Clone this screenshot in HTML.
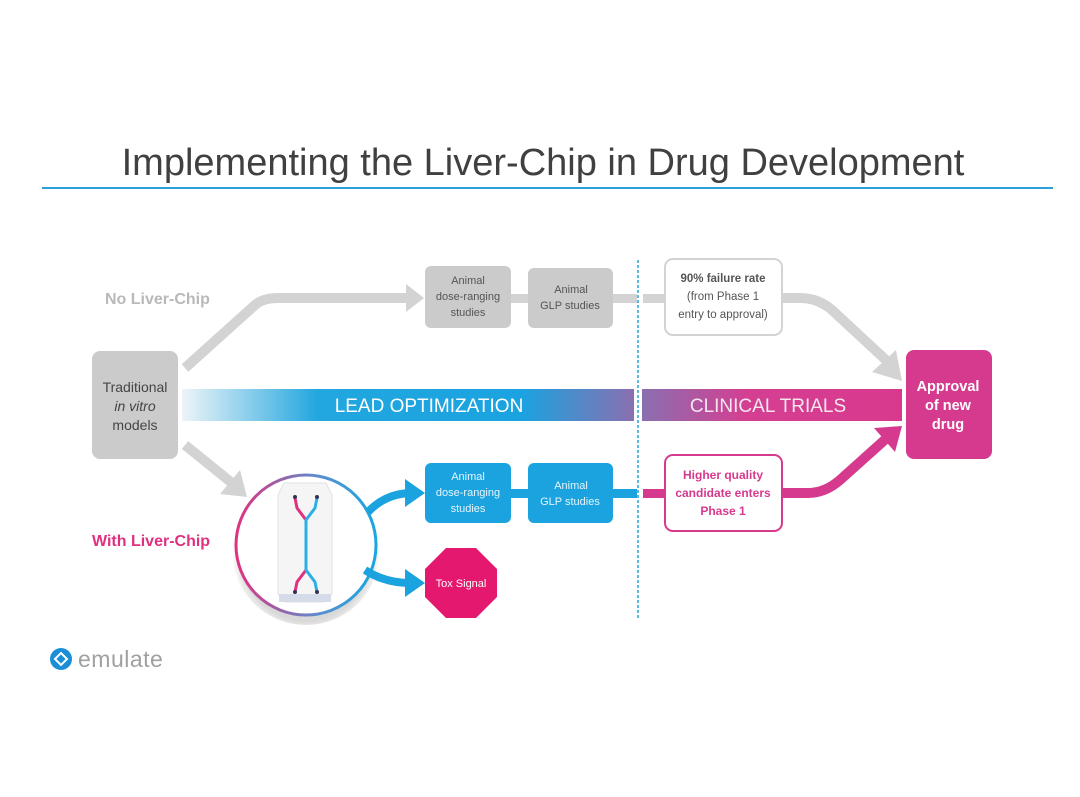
<!DOCTYPE html>
<html><head><meta charset="utf-8"><style>
body{margin:0;background:#fff;}
svg{display:block;font-family:"Liberation Sans",sans-serif;}
</style></head><body>
<svg width="1080" height="797" viewBox="0 0 1080 797" xmlns="http://www.w3.org/2000/svg">
<defs>
<linearGradient id="lo" x1="182" x2="634" gradientUnits="userSpaceOnUse">
<stop offset="0" stop-color="#eef4f8"/><stop offset="0.3" stop-color="#22a7df"/><stop offset="0.75" stop-color="#1aa3e0"/><stop offset="1" stop-color="#8a6fb0"/>
</linearGradient>
<linearGradient id="ct" x1="642" x2="902" gradientUnits="userSpaceOnUse">
<stop offset="0" stop-color="#8a6fb0"/><stop offset="0.4" stop-color="#d43f92"/><stop offset="1" stop-color="#d9398d"/>
</linearGradient>
<linearGradient id="ring" x1="0" y1="0" x2="1" y2="0">
<stop offset="0" stop-color="#e0317f"/><stop offset="0.6" stop-color="#5a8fd0"/><stop offset="1" stop-color="#1aa6df"/>
</linearGradient>
<radialGradient id="sh" cx="0.5" cy="0.55" r="0.5"><stop offset="0.85" stop-color="#000" stop-opacity="0.15"/><stop offset="1" stop-color="#000" stop-opacity="0"/></radialGradient>
</defs>
<text x="543" y="175" text-anchor="middle" font-size="38" fill="#404040">Implementing the Liver-Chip in Drug Development</text>
<rect x="42" y="187" width="1011" height="2" fill="#2aa0d8"/>

<path d="M185 368 L255 305 Q263 298 278 298 L410 298" fill="none" stroke="#d3d3d3" stroke-width="10"/>
<polygon points="406,284 424,298 406,312" fill="#d3d3d3"/>
<rect x="425" y="266" width="86" height="62" rx="6" fill="#cbcbcb"/>
<text font-size="11" fill="#555" text-anchor="middle"><tspan x="468" y="284">Animal</tspan><tspan x="468" y="300">dose-ranging</tspan><tspan x="468" y="316">studies</tspan></text>
<rect x="511" y="294" width="17" height="9" fill="#d3d3d3"/>
<rect x="528" y="268" width="85" height="60" rx="6" fill="#cbcbcb"/>
<text font-size="11" fill="#555" text-anchor="middle"><tspan x="571" y="293">Animal</tspan><tspan x="570" y="309">GLP studies</tspan></text>
<rect x="613" y="294" width="24" height="9" fill="#d3d3d3"/>
<rect x="643" y="294" width="23" height="9" fill="#d3d3d3"/>
<rect x="665" y="259" width="117" height="76" rx="8" fill="#fff" stroke="#d3d3d3" stroke-width="2"/>
<text font-size="11.5" fill="#555" text-anchor="middle"><tspan x="723" y="282" font-weight="bold">90% failure rate</tspan><tspan x="723" y="300">(from Phase 1</tspan><tspan x="723" y="318">entry to approval)</tspan></text>
<path d="M782 298 L800 298 Q818 298 832 310 L888 362" fill="none" stroke="#d3d3d3" stroke-width="10"/>
<polygon points="872,372 902,381 896,350" fill="#d3d3d3"/>
<text x="105" y="304" font-size="16" font-weight="bold" fill="#b9b9b9">No Liver-Chip</text>

<rect x="92" y="351" width="86" height="108" rx="8" fill="#cbcbcb"/>
<text font-size="14" fill="#444" text-anchor="middle"><tspan x="135" y="392">Traditional</tspan><tspan x="135" y="411" font-style="italic">in vitro</tspan><tspan x="135" y="430">models</tspan></text>

<rect x="182" y="389" width="452" height="32" fill="url(#lo)"/>
<text x="429" y="412" text-anchor="middle" font-size="19" fill="#fff">LEAD OPTIMIZATION</text>
<rect x="642" y="389" width="260" height="32" fill="url(#ct)"/>
<text x="768" y="412" text-anchor="middle" font-size="19" fill="#f4e6ef">CLINICAL TRIALS</text>
<line x1="638" y1="260" x2="638" y2="618" stroke="#2aa0d8" stroke-width="1.5" stroke-dasharray="3,2"/>
<rect x="906" y="350" width="86" height="109" rx="8" fill="#d63a8e"/>
<text font-size="14.5" font-weight="bold" fill="#fff" text-anchor="middle"><tspan x="948" y="391">Approval</tspan><tspan x="948" y="410">of new</tspan><tspan x="948" y="429">drug</tspan></text>

<path d="M185 445 L232 483" fill="none" stroke="#d3d3d3" stroke-width="10"/>
<polygon points="220,494 247,497 240,470" fill="#d3d3d3"/>

<circle cx="306" cy="551" r="74" fill="url(#sh)"/>
<circle cx="306" cy="545" r="70" fill="#fff" stroke="url(#ring)" stroke-width="3"/>
<path d="M284 483 L326 483 L332 495 L332 594 L324 602 L286 602 L278 594 L278 495 Z" fill="#f5f5f5" stroke="#e2e2e2"/>
<path d="M295 498 L297 508 L306 520 L306 570 L297 582 L295 592" fill="none" stroke="#e0317f" stroke-width="3"/>
<path d="M317 498 L315 508 L306 520 L306 570 L315 582 L317 592" fill="none" stroke="#2bb0e6" stroke-width="3"/>
<circle cx="295" cy="497" r="2" fill="#335"/><circle cx="317" cy="497" r="2" fill="#335"/>
<circle cx="295" cy="592" r="2" fill="#335"/><circle cx="317" cy="592" r="2" fill="#335"/>
<rect x="279" y="594" width="52" height="8" fill="#d5dbe8"/>
<text x="92" y="546" font-size="16" font-weight="bold" fill="#e0317f">With Liver-Chip</text>

<path d="M368 512 Q385 494 410 493" fill="none" stroke="#1aa3df" stroke-width="8"/>
<polygon points="405,479 425,493 405,507" fill="#1aa3df"/>
<path d="M365 570 Q385 583 410 583" fill="none" stroke="#1aa3df" stroke-width="8"/>
<polygon points="405,569 425,583 405,597" fill="#1aa3df"/>
<rect x="425" y="463" width="86" height="60" rx="6" fill="#1aa3df"/>
<text font-size="11" fill="#e6f5fc" text-anchor="middle"><tspan x="468" y="480">Animal</tspan><tspan x="468" y="496">dose-ranging</tspan><tspan x="468" y="512">studies</tspan></text>
<rect x="511" y="489" width="17" height="9" fill="#1aa3df"/>
<rect x="528" y="463" width="85" height="60" rx="6" fill="#1aa3df"/>
<text font-size="11" fill="#e6f5fc" text-anchor="middle"><tspan x="571" y="489">Animal</tspan><tspan x="570" y="505">GLP studies</tspan></text>
<rect x="613" y="489" width="24" height="9" fill="#1aa3df"/>
<rect x="643" y="489" width="23" height="9" fill="#d63a8e"/>
<rect x="665" y="455" width="117" height="76" rx="8" fill="#fff" stroke="#d63a8e" stroke-width="2"/>
<text font-size="12" font-weight="bold" fill="#d63a8e" text-anchor="middle"><tspan x="723" y="479">Higher quality</tspan><tspan x="723" y="497">candidate enters</tspan><tspan x="723" y="515">Phase 1</tspan></text>
<path d="M782 493 L808 493 Q825 493 840 480 L888 437" fill="none" stroke="#d63a8e" stroke-width="10"/>
<polygon points="874,428 902,426 895,452" fill="#d63a8e"/>
<polygon points="446,548 476,548 497,569 497,597 476,618 446,618 425,597 425,569" fill="#e5186f"/>
<text x="461" y="587" text-anchor="middle" font-size="11" fill="#fff">Tox Signal</text>

<circle cx="61" cy="659" r="11" fill="#1a8fd8"/>
<path d="M55 659 L61 653 L67 659 L61 665 Z" fill="none" stroke="#fff" stroke-width="2"/>
<text x="78" y="667" font-size="23" fill="#a0a0a0" letter-spacing="0.5">emulate</text>
</svg>
</body></html>
